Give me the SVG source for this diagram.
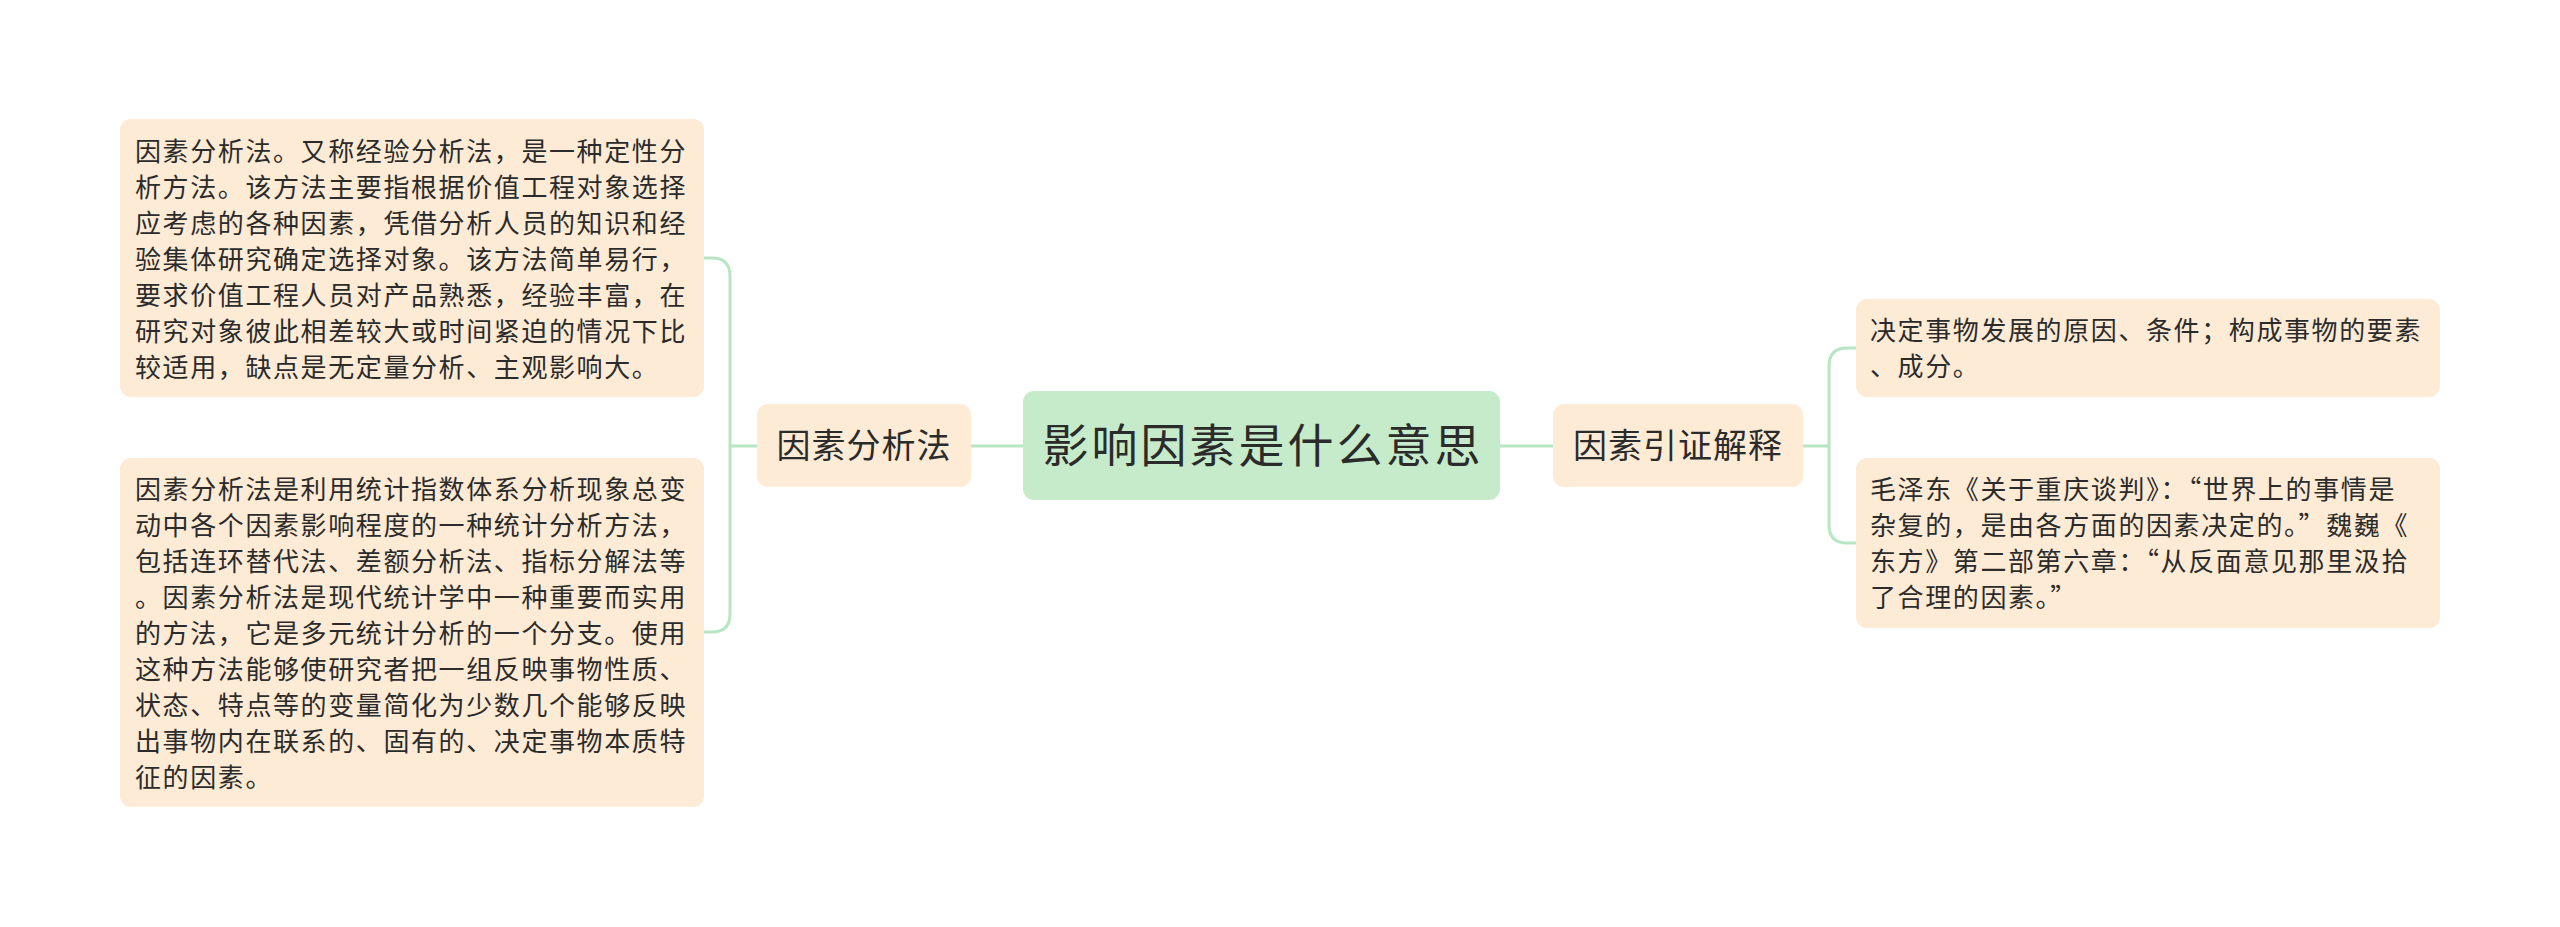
<svg xmlns="http://www.w3.org/2000/svg" width="2560" height="927" viewBox="0 0 2560 927">
<style>
.leaf{fill:#FDEBD6}
.mid{fill:#FDEBD6}
.root{fill:#C6EBCA}
.conn{fill:none;stroke:#B8E5C3;stroke-width:3}
.body{font-family:"Noto Sans CJK SC","Noto Sans",sans-serif;font-size:26px;letter-spacing:1.6px;fill:#2b2b2b}
.midt{font-family:"Noto Sans CJK SC","Noto Sans",sans-serif;font-size:34px;letter-spacing:1px;fill:#2b2b2b;text-anchor:middle}
.roott{font-family:"Noto Sans CJK SC","Noto Sans",sans-serif;font-size:46px;letter-spacing:3px;fill:#2b2b2b;text-anchor:middle}
</style>
<rect width="2560" height="927" fill="#ffffff"/>
<g id="connectors">
<path class="conn" d="M1023,446 H971"/>
<path class="conn" d="M757,446 H730"/>
<path class="conn" d="M704,258 H712 Q730,258 730,276 V614 Q730,632 712,632 H704"/>
<path class="conn" d="M1500,446 H1553"/>
<path class="conn" d="M1803,446 H1829"/>
<path class="conn" d="M1856,348 H1847 Q1829,348 1829,366 V525 Q1829,543 1847,543 H1856"/>
</g>
<g id="root">
<rect class="root" x="1023" y="391" width="477" height="109" rx="11"/>
<text class="roott" x="1263" y="462">影响因素是什么意思</text>
</g>
<g id="node-fenxifa">
<rect class="mid" x="757" y="404" width="214" height="83" rx="11"/>
<text class="midt" x="864" y="458">因素分析法</text>
</g>
<g id="node-yinzheng">
<rect class="mid" x="1553" y="404" width="250" height="83" rx="11"/>
<text class="midt" x="1678" y="458">因素引证解释</text>
</g>
<g id="leaf-l1">
<rect class="leaf" x="120" y="119" width="584" height="278" rx="11"/>
<text class="body">
<tspan x="135" y="161">因素分析法。又称经验分析法，是一种定性分</tspan>
<tspan x="135" y="197">析方法。该方法主要指根据价值工程对象选择</tspan>
<tspan x="135" y="233">应考虑的各种因素，凭借分析人员的知识和经</tspan>
<tspan x="135" y="269">验集体研究确定选择对象。该方法简单易行，</tspan>
<tspan x="135" y="305">要求价值工程人员对产品熟悉，经验丰富，在</tspan>
<tspan x="135" y="341">研究对象彼此相差较大或时间紧迫的情况下比</tspan>
<tspan x="135" y="377">较适用，缺点是无定量分析、主观影响大。</tspan>
</text>
</g>
<g id="leaf-l2">
<rect class="leaf" x="120" y="458" width="584" height="349" rx="11"/>
<text class="body">
<tspan x="135" y="499">因素分析法是利用统计指数体系分析现象总变</tspan>
<tspan x="135" y="535">动中各个因素影响程度的一种统计分析方法，</tspan>
<tspan x="135" y="571">包括连环替代法、差额分析法、指标分解法等</tspan>
<tspan x="135" y="607">。因素分析法是现代统计学中一种重要而实用</tspan>
<tspan x="135" y="643">的方法，它是多元统计分析的一个分支。使用</tspan>
<tspan x="135" y="679">这种方法能够使研究者把一组反映事物性质、</tspan>
<tspan x="135" y="715">状态、特点等的变量简化为少数几个能够反映</tspan>
<tspan x="135" y="751">出事物内在联系的、固有的、决定事物本质特</tspan>
<tspan x="135" y="787">征的因素。</tspan>
</text>
</g>
<g id="leaf-r1">
<rect class="leaf" x="1856" y="299" width="584" height="98" rx="11"/>
<text class="body">
<tspan x="1870" y="340">决定事物发展的原因、条件；构成事物的要素</tspan>
<tspan x="1870" y="376">、成分。</tspan>
</text>
</g>
<g id="leaf-r2">
<rect class="leaf" x="1856" y="458" width="584" height="170" rx="11"/>
<text class="body">
<tspan x="1870" y="499">毛泽东《关于重庆谈判》：“世界上的事情是</tspan>
<tspan x="1870" y="535">杂复的，是由各方面的因素决定的。”魏巍《</tspan>
<tspan x="1870" y="571">东方》第二部第六章：“从反面意见那里汲拾</tspan>
<tspan x="1870" y="607">了合理的因素。”</tspan>
</text>
</g>
</svg>
